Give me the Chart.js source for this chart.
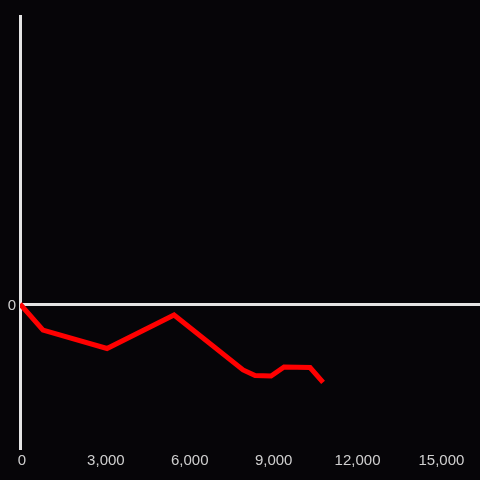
<!DOCTYPE html>
<html>
<head>
<meta charset="utf-8">
<script src="https://cdn.jsdelivr.net/npm/chart.js@4/dist/chart.umd.min.js"></script>
<style>
    html, body { margin: 0; padding: 0; background: #060508; }
    canvas { display: block; background: #060508; }
</style>
</head>
<body>
<canvas id="chart" width="480" height="480"></canvas>
<script>
// values
const xValues = [0, 823, 3112, 5509, 7977, 8406, 8978, 9443, 10373, 10838];
const yValues = [0, -181, -309, -76, -458, -497, -500, -437, -441, -545];
const xTicks = [0, 3000, 6000, 9000, 12000, 15000];
const yTicks = [0];

const axisColor = '#e4e4e4';
const textColor = '#cfcfcf';

new Chart(document.getElementById('chart'), {
    type: 'line',
    data: {
        datasets: [{
            data: xValues.map((x, i) => ({ x, y: yValues[i] })),
            borderColor: '#ff0000',
            borderWidth: 5,
            pointRadius: 0,
            tension: 0,
            fill: false
        }]
    },
    options: {
        responsive: false,
        animation: false,
        layout: { padding: { top: 16, right: 0, bottom: 0, left: 0 } },
        plugins: {
            legend: { display: false },
            tooltip: { enabled: false }
        },
        scales: {
            x: {
                type: 'linear',
                min: 0,
                max: 16450,
                afterBuildTicks: axis => { axis.ticks = xTicks.map(value => ({ value })); },
                afterFit: axis => { axis.height = 32; },
                grid: { display: false, drawTicks: false },
                border: { display: false },
                ticks: {
                    color: textColor,
                    font: { size: 15 },
                    padding: 4,
                    labelOffset: 2,
                    autoSkip: false,
                    maxRotation: 0,
                    callback: value => value.toLocaleString('en-US')
                }
            },
            y: {
                min: -1000,
                max: 2000,
                afterBuildTicks: axis => { axis.ticks = yTicks.map(value => ({ value })); },
                afterFit: axis => { axis.width = 20; },
                grid: { color: axisColor, lineWidth: 3, drawTicks: false },
                border: { display: true, color: axisColor, width: 3 },
                ticks: {
                    color: textColor,
                    font: { size: 15 },
                    padding: 4,
                    labelOffset: 2
                }
            }
        }
    }
});
</script>
</body>
</html>
